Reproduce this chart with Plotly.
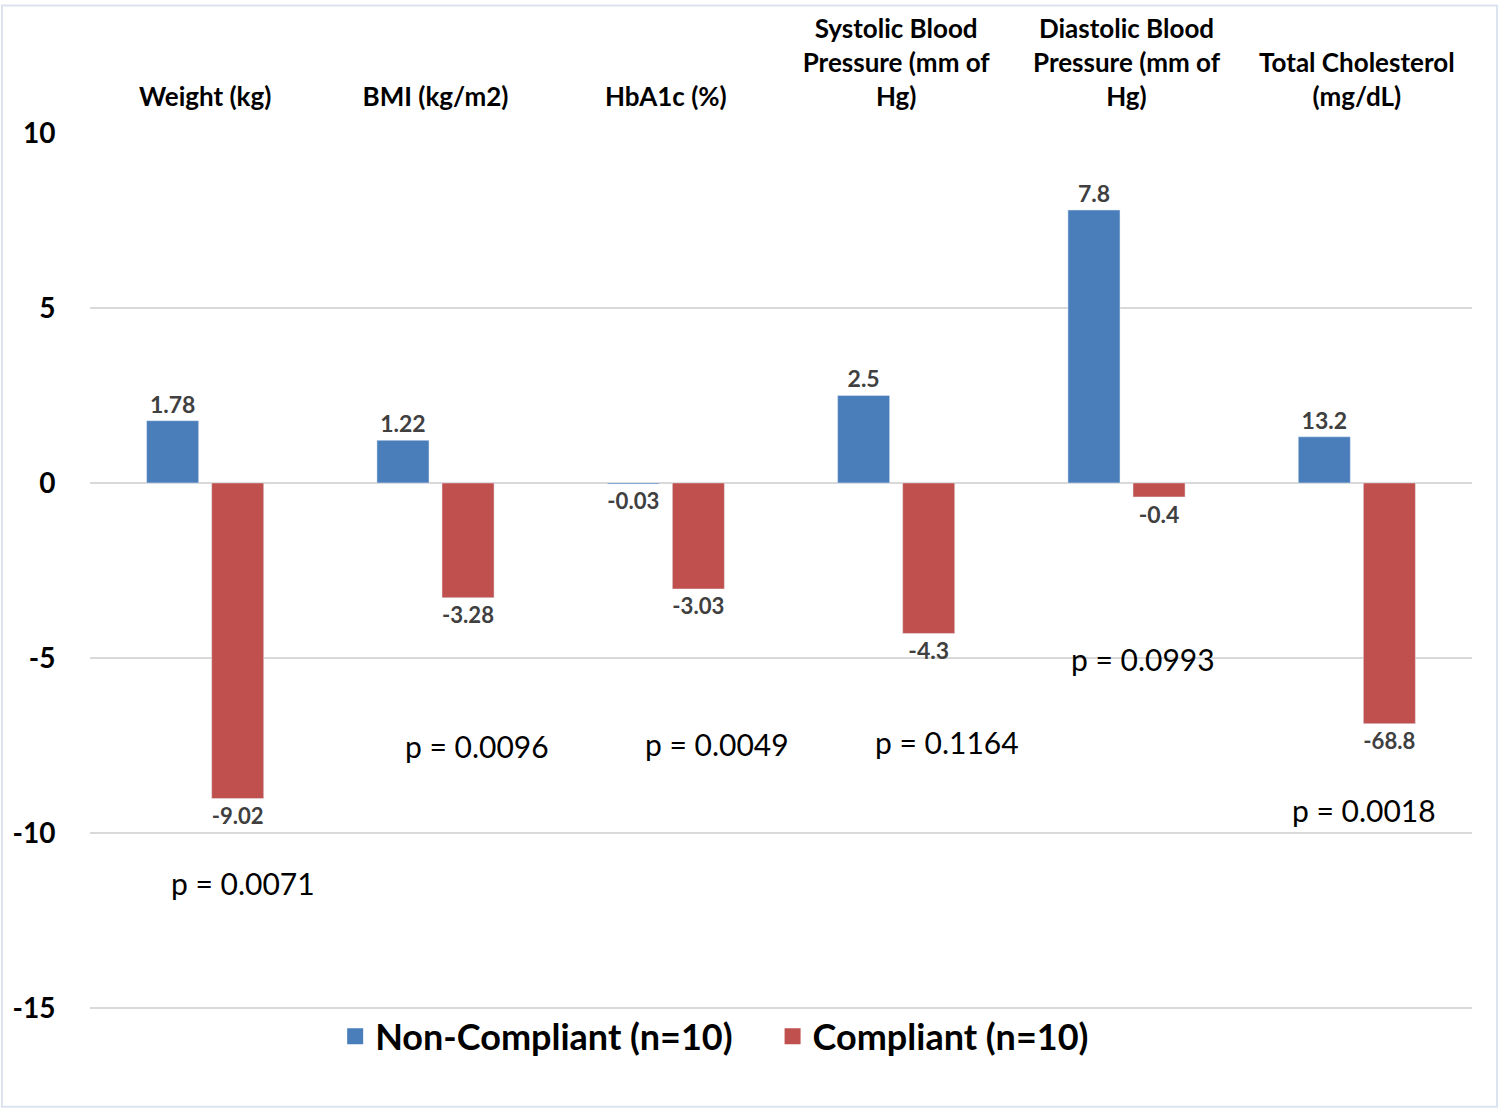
import plotly.graph_objs as go

# data
categories = ['Weight (kg)', 'BMI (kg/m2)', 'HbA1c (%)',
              'Systolic Blood<br>Pressure (mm of<br>Hg)',
              'Diastolic Blood<br>Pressure (mm of<br>Hg)',
              'Total Cholesterol<br>(mg/dL)']
non_compliant = [1.78, 1.22, -0.03, 2.5, 7.8, 13.2]
compliant = [-9.02, -3.28, -3.03, -4.3, -0.4, -68.8]
# cholesterol bars are drawn at a tenth of their value in the original
display_scale = [1, 1, 1, 1, 1, 0.1]
p_values = ['0.0071', '0.0096', '0.0049', '0.1164', '0.0993', '0.0018']
y_ticks = [-15, -10, -5, 0, 5, 10]

# where the p-value notes sit (category offset, y value)
p_offsets = [0.165, 0.18, 0.22, 0.22, 0.07, 0.03]
p_levels = [-11.42, -7.53, -7.47, -7.39, -5.03, -9.35]

FONT = 'Lato'
BLUE = '#4a7ebb'
RED = '#c0504d'
idx = list(range(len(categories)))

nc_bars = [v * s for v, s in zip(non_compliant, display_scale)]
c_bars = [v * s for v, s in zip(compliant, display_scale)]

label_font = dict(family=FONT, size=23, color='#404040', weight='bold')

trace1 = go.Bar(x=idx, y=nc_bars, name='Non-Compliant (n=10)',
                marker=dict(color=BLUE), showlegend=False,
                text=[str(v) for v in non_compliant], textposition='outside',
                textfont=label_font, cliponaxis=False)
trace2 = go.Bar(x=idx, y=c_bars, name='Compliant (n=10)',
                marker=dict(color=RED), showlegend=False,
                text=[str(v) for v in compliant], textposition='outside',
                textfont=label_font, cliponaxis=False)

# legend-only entries so the swatches can be bigger squares
leg1 = go.Scatter(x=[None], y=[None], mode='markers',
                  name='Non-Compliant (n=10)\u00a0\u00a0\u00a0\u00a0',
                  marker=dict(symbol='square', size=22, color=BLUE))
leg2 = go.Scatter(x=[None], y=[None], mode='markers', name='Compliant (n=10)',
                  marker=dict(symbol='square', size=22, color=RED))

annotations = []
for i in idx:
    annotations.append(dict(x=i + p_offsets[i], y=p_levels[i], xref='x', yref='y',
                            text='p = ' + p_values[i], showarrow=False,
                            font=dict(family=FONT, size=30, color='black')))

layout = go.Layout(
    width=1500, height=1109,
    margin=dict(l=90, r=28, t=130, b=99),
    paper_bgcolor='white', plot_bgcolor='white',
    barmode='group', bargap=0.435, bargroupgap=0.2,
    font=dict(family=FONT, color='black'),
    xaxis=dict(side='top', tickmode='array', tickvals=idx, ticktext=categories,
               range=[-0.5, 5.5], showgrid=False, showline=False,
               tickfont=dict(family=FONT, size=26, color='black', weight='bold'),
               ticks='outside', ticklen=16, tickcolor='white', tickangle=0),
    yaxis=dict(range=[-15.06, 10], tickvals=y_ticks,
               ticktext=[str(t) for t in y_ticks],
               showgrid=True, gridcolor='#d9d9d9', gridwidth=2,
               zeroline=True, zerolinecolor='#d9d9d9', zerolinewidth=2,
               showline=False,
               tickfont=dict(family=FONT, size=28, color='black', weight='bold'),
               ticks='outside', ticklen=28, tickcolor='white'),
    legend=dict(orientation='h', x=0.452, y=-0.03, xanchor='center', yanchor='middle',
                bgcolor='rgba(0,0,0,0)',
                font=dict(family=FONT, size=36, color='black', weight='bold'),
                itemwidth=30),
    annotations=annotations,
    shapes=[dict(type='rect', xref='paper', yref='paper',
                 x0=-88 / 1382, x1=1 + 25 / 1382, y0=-97 / 880, y1=1 + 128 / 880,
                 line=dict(color='#dbe3ee', width=2))],
)

fig = go.Figure(data=[trace1, trace2, leg1, leg2], layout=layout)
fig.write_html('out.html', config={'displayModeBar': False},
               post_script="document.body.style.margin='0';")
